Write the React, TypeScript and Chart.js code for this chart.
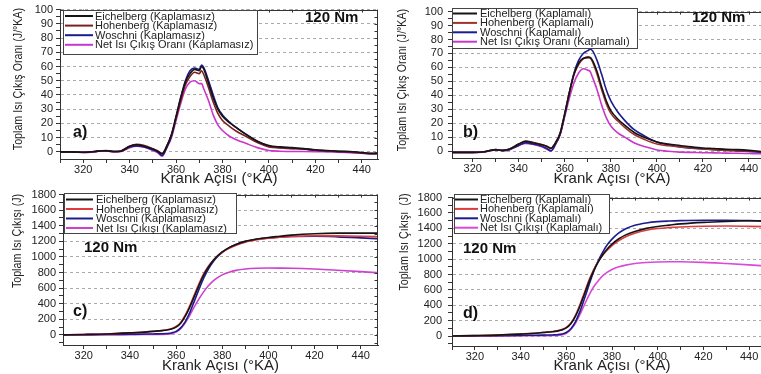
import React, { useEffect, useRef } from 'react';
import { Chart, registerables } from 'chart.js';

Chart.register(...registerables);

const SANS = '"Liberation Sans", Arial, Helvetica, sans-serif';

// ---------- DATA ----------
// Heat release rate (J/°KA) panels a, b
const RATE_ANGLES = [310, 315, 320, 325, 328, 330, 333, 336, 340, 343, 346, 350, 352, 354, 356, 358, 360, 362, 364, 366, 368, 370, 371, 372, 374, 376, 378, 380, 383, 386, 390, 395, 400, 405, 410, 415, 420, 425, 430, 435, 440, 445, 450];

const A_EICH = [0, 0, -0.3, 0.3, 0.8, 0.8, 0.3, 0.5, 4, 5, 4.2, 2, 0.5, -1.5, 4, 12, 25, 38, 49, 55, 58, 57, 60, 58, 48, 38, 30, 25, 20.5, 17, 12.5, 7.5, 4.5, 3.5, 3, 2.3, 1.5, 1, 0.5, 0.3, -0.5, -1, -0.5];
const A_HOH = [0, 0, -0.3, 0.3, 0.8, 0.9, 0.3, 0.5, 4, 5.3, 4.6, 2.2, 0.8, -1, 4, 12, 24, 36, 47, 53, 56, 55, 57, 54, 45, 35, 27, 22, 18, 14.5, 11, 6.5, 3.5, 2.8, 2.3, 2, 1.2, 0.8, 0.3, 0, -0.8, -1.2, -0.6];
const A_WOS = [0, 0, -0.3, 0.3, 0.7, 0.8, 0.3, 0.4, 3.5, 4.2, 3.6, 1.5, 0, -2.5, 3, 11, 24, 38, 50, 57, 59, 58, 61, 59, 50, 40, 31, 26, 21, 17, 12.5, 7.5, 4, 3, 2.5, 2, 1.2, 0.6, 0.2, 0, -0.8, -1.3, -0.7];
const A_NET = [0, 0, -0.5, 0, 0.6, 0.6, 0, 0.2, 3, 4, 3.4, 1, -0.5, -3, 3, 10, 22, 34, 44, 49, 50, 48, 48, 44, 36, 26, 19, 15, 11, 8.5, 6, 3, 1, 0.5, 0.3, 0.3, 0.2, 0, -0.2, -0.5, -1, -1.3, -0.8];

const B_EICH = [-1, -1, -1, -0.5, 0.5, 1, 0.5, 1.5, 5, 7, 6, 4.5, 3.5, 2, 6, 13, 27, 42, 55, 63, 66.5, 67, 67, 65, 57, 46, 36, 29, 23, 18.5, 13.5, 9.5, 6.5, 5, 4, 3, 2.2, 1.8, 1.2, 1, 0.5, -0.3, -1];
const B_HOH = [-1, -1, -1, -0.5, 0.5, 1, 0.5, 1.5, 5, 7.2, 6.2, 4.6, 3.6, 2, 6, 13, 27, 42, 55, 62, 66, 67.5, 67, 64, 55, 44, 34, 27, 21.5, 17, 12, 8, 5, 3.8, 3, 2.2, 1.5, 1, 0.5, 0.3, 0, -0.5, -1.2];
const B_WOS = [-1, -1, -1, -0.5, 0.5, 0.8, 0.3, 1, 4, 6, 5, 3.5, 2, 0.3, 5, 12, 26, 42, 56, 65, 70, 72, 73, 72, 65, 55, 44, 36, 28, 22, 15.5, 10.5, 6.5, 4.5, 3, 2, 1.5, 1, 0.5, 0, -0.3, -0.8, -1.3];
const B_NET = [-1, -1, -1, -0.6, 0.4, 0.8, 0.3, 1, 4, 5.5, 4.8, 3, 1.5, 0, 5, 12, 25, 38, 49, 56, 59, 58, 57, 53, 44, 33, 24, 18, 13, 10, 6, 3, 0.8, -0.2, -0.8, -1, -1.2, -1.3, -1.5, -1.6, -1.8, -2, -2];

// Cumulative heat release (J) panels c, d
const CUM_ANGLES = [310, 320, 330, 340, 345, 350, 354, 356, 358, 360, 362, 364, 366, 368, 370, 372, 374, 376, 378, 380, 383, 386, 390, 395, 400, 405, 410, 420, 430, 440, 450];

const C_EICH = [0, 5, 12, 25, 33, 45, 55, 62, 75, 100, 150, 240, 360, 500, 640, 770, 870, 950, 1015, 1065, 1120, 1160, 1200, 1230, 1250, 1265, 1280, 1298, 1305, 1305, 1305];
const C_HOH = [0, 5, 12, 26, 34, 47, 57, 65, 80, 108, 160, 255, 380, 520, 660, 785, 880, 955, 1015, 1060, 1110, 1150, 1190, 1220, 1240, 1252, 1262, 1272, 1270, 1265, 1258];
const C_WOS = [0, 2, 4, 8, 10, 12, 14, 17, 25, 45, 90, 170, 290, 440, 590, 730, 845, 935, 1005, 1060, 1120, 1160, 1200, 1228, 1245, 1255, 1262, 1265, 1258, 1245, 1230];
const C_NET = [0, 0, 1, 3, 4, 5, 6, 8, 15, 35, 80, 155, 255, 365, 465, 555, 630, 690, 735, 770, 805, 828, 845, 855, 858, 857, 855, 845, 830, 812, 792];

const D_EICH = [0, 5, 12, 25, 33, 45, 55, 63, 78, 105, 160, 255, 390, 550, 710, 850, 965, 1060, 1135, 1195, 1265, 1315, 1360, 1400, 1425, 1442, 1458, 1478, 1490, 1498, 1500];
const D_HOH = [0, 5, 12, 26, 34, 47, 58, 67, 83, 112, 170, 270, 410, 570, 730, 865, 970, 1055, 1120, 1175, 1240, 1290, 1335, 1375, 1398, 1410, 1418, 1428, 1430, 1426, 1420];
const D_WOS = [0, 2, 4, 8, 10, 12, 14, 17, 25, 45, 95, 185, 320, 490, 670, 840, 980, 1095, 1190, 1260, 1340, 1395, 1440, 1470, 1487, 1495, 1500, 1505, 1505, 1500, 1490];
const D_NET = [0, 0, 1, 3, 4, 5, 6, 8, 15, 35, 85, 165, 280, 410, 535, 640, 720, 785, 830, 865, 900, 922, 942, 955, 962, 965, 965, 957, 942, 925, 905];

// Tick values (labels shown on the values listed in the label lists)
const X_TICKS = [310, 320, 330, 340, 350, 360, 370, 380, 390, 400, 410, 420, 430, 440, 450];
const X_TICK_LABELS = ['320', '340', '360', '380', '400', '420', '440'];
const RATE_Y_TICKS = [0, 5, 10, 15, 20, 25, 30, 35, 40, 45, 50, 55, 60, 65, 70, 75, 80, 85, 90, 95, 100];
const RATE_Y_LABELS = ['0', '10', '20', '30', '40', '50', '60', '70', '80', '90', '100'];
const CUM_Y_TICKS = [-100, 0, 100, 200, 300, 400, 500, 600, 700, 800, 900, 1000, 1100, 1200, 1300, 1400, 1500, 1600, 1700, 1800];
const CUM_Y_LABELS = ['0', '200', '400', '600', '800', '1000', '1200', '1400', '1600', '1800'];

const LABELS_A = ['Eichelberg (Kaplamasız)', 'Hohenberg (Kaplamasız)', 'Woschni (Kaplamasız)', 'Net Isı Çıkış Oranı (Kaplamasız)'];
const LABELS_B = ['Eichelberg (Kaplamalı)', 'Hohenberg (Kaplamalı)', 'Woschni (Kaplamalı)', 'Net Isı Çıkış Oranı (Kaplamalı)'];
const LABELS_C = ['Eichelberg (Kaplamasız)', 'Hohenberg (Kaplamasız)', 'Woschni (Kaplamasız)', 'Net Isı Çıkışı (Kaplamasız)'];
const LABELS_D = ['Eichelberg (Kaplamalı)', 'Hohenberg (Kaplamalı)', 'Woschni (Kaplamalı)', 'Net Isı Çıkışı (Kaplamalı)'];

const X_TITLE = 'Krank Açısı (°KA)';
const Y_TITLE_RATE = 'Toplam Isı Çıkış Oranı (J/°KA)';
const Y_TITLE_CUM_C = 'Toplam Isı Çıkışı (J)';
const Y_TITLE_CUM_D = 'Toplam Isı Çıkışı  (J)';
const LOAD_TEXT = '120 Nm';

// ---------- LAYOUT ----------
type Series = { label: string; values: number[]; color: string };
type Panel = {
  key: string;
  left: number; top: number; width: number; height: number;
  area: { l: number; t: number; r: number; b: number };
  angles: number[];
  xMin: number; xMax: number;
  yMin: number; yMax: number; yTicks: number[]; yLabels: string[];
  yTitle: string; yTitlePos: { x: number; y: number }; yTickPad: number; xTitlePad: number;
  series: Series[];
  legend: { x: number; y: number; w: number; h: number; row0: number; rowH: number; l0: number; l1: number; tx: number };
  nm: { x: number; y: number };
  tag: { text: string; x: number; y: number };
  rightBorder: boolean;
};

const BLACK = '#141414';
const NAVY = '#1c1c8e';

const PANELS: Panel[] = [
  {
    key: 'a', left: 0, top: 0, width: 380, height: 192,
    area: { l: 60, t: 9, r: 378, b: 159 },
    angles: RATE_ANGLES, xMin: 310, xMax: 447,
    yMin: -5, yMax: 100, yTicks: RATE_Y_TICKS, yLabels: RATE_Y_LABELS,
    yTitle: Y_TITLE_RATE, yTitlePos: { x: 18, y: 79 }, yTickPad: 3, xTitlePad: 4,
    series: [
      { label: LABELS_A[0], values: A_EICH, color: BLACK },
      { label: LABELS_A[1], values: A_HOH, color: '#7c1f1f' },
      { label: LABELS_A[2], values: A_WOS, color: NAVY },
      { label: LABELS_A[3], values: A_NET, color: '#cc35cc' },
    ],
    legend: { x: 63, y: 10, w: 194, h: 44, row0: 16, rowH: 9.6, l0: 65, l1: 93, tx: 95 },
    nm: { x: 305, y: 18 }, tag: { text: 'a)', x: 73, y: 133 }, rightBorder: true,
  },
  {
    key: 'b', left: 380, top: 0, width: 400, height: 192,
    area: { l: 72, t: 9, r: 392, b: 158 },
    angles: RATE_ANGLES, xMin: 311, xMax: 450,
    yMin: -5, yMax: 100, yTicks: RATE_Y_TICKS, yLabels: RATE_Y_LABELS,
    yTitle: Y_TITLE_RATE, yTitlePos: { x: 22, y: 80 }, yTickPad: 5, xTitlePad: 4,
    series: [
      { label: LABELS_B[0], values: B_EICH, color: BLACK },
      { label: LABELS_B[1], values: B_HOH, color: '#a0302a' },
      { label: LABELS_B[2], values: B_WOS, color: NAVY },
      { label: LABELS_B[3], values: B_NET, color: '#c838c8' },
    ],
    legend: { x: 72, y: 8, w: 185, h: 40, row0: 13.5, rowH: 9.4, l0: 73, l1: 97, tx: 100 },
    nm: { x: 312, y: 18 }, tag: { text: 'b)', x: 83, y: 133 }, rightBorder: false,
  },
  {
    key: 'c', left: 0, top: 185, width: 380, height: 195,
    area: { l: 63, t: 7, r: 378, b: 160 },
    angles: CUM_ANGLES, xMin: 311, xMax: 447.5,
    yMin: -130, yMax: 1800, yTicks: CUM_Y_TICKS, yLabels: CUM_Y_LABELS,
    yTitle: Y_TITLE_CUM_C, yTitlePos: { x: 17, y: 56 }, yTickPad: 3, xTitlePad: 5,
    series: [
      { label: LABELS_C[0], values: C_EICH, color: BLACK },
      { label: LABELS_C[1], values: C_HOH, color: '#e03a3a' },
      { label: LABELS_C[2], values: C_WOS, color: NAVY },
      { label: LABELS_C[3], values: C_NET, color: '#d040d0' },
    ],
    legend: { x: 64, y: 8, w: 172, h: 40, row0: 14.5, rowH: 9.5, l0: 66, l1: 93, tx: 96 },
    nm: { x: 84, y: 63 }, tag: { text: 'c)', x: 73, y: 127 }, rightBorder: true,
  },
  {
    key: 'd', left: 380, top: 185, width: 400, height: 195,
    area: { l: 72, t: 8, r: 392, b: 161 },
    angles: CUM_ANGLES, xMin: 310, xMax: 450,
    yMin: -130, yMax: 1800, yTicks: CUM_Y_TICKS, yLabels: CUM_Y_LABELS,
    yTitle: Y_TITLE_CUM_D, yTitlePos: { x: 24, y: 57 }, yTickPad: 6, xTitlePad: 5,
    series: [
      { label: LABELS_D[0], values: D_EICH, color: BLACK },
      { label: LABELS_D[1], values: D_HOH, color: '#dd3b3b' },
      { label: LABELS_D[2], values: D_WOS, color: NAVY },
      { label: LABELS_D[3], values: D_NET, color: '#d84ad8' },
    ],
    legend: { x: 74, y: 9, w: 155, h: 39, row0: 14.5, rowH: 9.4, l0: 75, l1: 98, tx: 100 },
    nm: { x: 83, y: 64 }, tag: { text: 'd)', x: 83, y: 129 }, rightBorder: false,
  },
];

function fmt(v: number) {
  return String(Math.round(v * 1000) / 1000);
}

function makeChart(canvas: HTMLCanvasElement, p: Panel) {
  const datasets = p.series.map((s) => ({
    label: s.label,
    data: p.angles.map((x, i) => ({ x, y: s.values[i] })),
    borderColor: s.color,
    backgroundColor: s.color,
    borderWidth: 1.6,
    pointRadius: 0,
    cubicInterpolationMode: 'monotone' as const,
    fill: false,
  }));

  const decor = {
    id: 'decor_' + p.key,
    afterDraw(chart: any) {
      const { ctx, chartArea: a } = chart;
      const xs = chart.scales.x;
      const ys = chart.scales.y;
      ctx.save();
      ctx.strokeStyle = '#333';
      ctx.lineWidth = 1;
      ctx.setLineDash([]);
      ctx.beginPath();
      const top = Math.round(a.top) + 0.5;
      ctx.moveTo(a.left, top);
      ctx.lineTo(a.right, top);
      X_TICKS.forEach((v) => {
        if (v < p.xMin || v > p.xMax) return;
        const x = Math.round(xs.getPixelForValue(v)) + 0.5;
        ctx.moveTo(x, a.top);
        ctx.lineTo(x, a.top + 3);
      });
      if (p.rightBorder) {
        const r = Math.round(a.right) - 0.5;
        ctx.moveTo(r, a.top);
        ctx.lineTo(r, a.bottom);
        p.yTicks.forEach((v) => {
          if (v < p.yMin) return;
          const y = Math.round(ys.getPixelForValue(v)) + 0.5;
          ctx.moveTo(r, y);
          ctx.lineTo(r - 3, y);
        });
      }
      ctx.stroke();

      // y-axis title (condensed, like the original figure)
      ctx.save();
      ctx.translate(p.yTitlePos.x, p.yTitlePos.y);
      ctx.rotate(-Math.PI / 2);
      ctx.scale(0.82, 1);
      ctx.font = `13px ${SANS}`;
      ctx.fillStyle = '#222';
      ctx.textAlign = 'center';
      ctx.textBaseline = 'middle';
      ctx.fillText(p.yTitle, 0, 0);
      ctx.restore();

      // legend box
      const L = p.legend;
      ctx.fillStyle = '#ffffff';
      ctx.fillRect(L.x, L.y, L.w, L.h);
      ctx.strokeStyle = '#444';
      ctx.lineWidth = 1;
      ctx.strokeRect(L.x + 0.5, L.y + 0.5, L.w, L.h);
      ctx.font = `11px ${SANS}`;
      ctx.textBaseline = 'middle';
      ctx.textAlign = 'left';
      chart.data.datasets.forEach((ds: any, i: number) => {
        const y = L.row0 + i * L.rowH;
        ctx.strokeStyle = ds.borderColor;
        ctx.lineWidth = 2;
        ctx.beginPath();
        ctx.moveTo(L.l0, y);
        ctx.lineTo(L.l1, y);
        ctx.stroke();
        ctx.fillStyle = '#222';
        ctx.fillText(ds.label, L.tx, y + 0.5);
      });

      ctx.fillStyle = '#111';
      ctx.font = `bold 15px ${SANS}`;
      ctx.fillText(LOAD_TEXT, p.nm.x, p.nm.y);
      ctx.font = `bold 16px ${SANS}`;
      ctx.fillText(p.tag.text, p.tag.x, p.tag.y);
      ctx.restore();
    },
  };

  return new Chart(canvas, {
    type: 'line',
    data: { datasets },
    options: {
      animation: false,
      responsive: false,
      events: [],
      layout: { padding: { left: 0, top: p.area.t, right: p.width - p.area.r, bottom: 0 } },
      plugins: { legend: { display: false }, tooltip: { enabled: false } },
      scales: {
        x: {
          type: 'linear',
          min: p.xMin,
          max: p.xMax,
          afterFit: (s: any) => { s.height = p.height - p.area.b; },
          afterBuildTicks: (s: any) => {
            s.ticks = X_TICKS.filter((v) => v >= p.xMin && v <= p.xMax).map((value) => ({ value }));
          },
          ticks: {
            autoSkip: false,
            maxRotation: 0,
            minRotation: 0,
            padding: 0,
            color: '#222',
            font: { family: SANS, size: 11 },
            callback: (v: any) => {
              const s = fmt(Number(v));
              return X_TICK_LABELS.includes(s) ? s : '';
            },
          },
          grid: {
            display: true,
            drawOnChartArea: false,
            tickLength: 4,
            tickWidth: 1,
            tickColor: '#333',
          },
          border: { display: true, color: '#333', width: 1 },
          title: {
            display: true,
            text: X_TITLE,
            color: '#222',
            font: { family: SANS, size: 15 },
            padding: { top: 0, bottom: p.xTitlePad },
          },
        },
        y: {
          type: 'linear',
          min: p.yMin,
          max: p.yMax,
          afterFit: (s: any) => { s.width = p.area.l; },
          afterBuildTicks: (s: any) => {
            s.ticks = p.yTicks.filter((v) => v >= p.yMin && v <= p.yMax).map((value) => ({ value }));
          },
          ticks: {
            autoSkip: false,
            padding: p.yTickPad,
            color: '#222',
            font: { family: SANS, size: 11 },
            callback: (v: any) => {
              const s = fmt(Number(v));
              return p.yLabels.includes(s) ? s : '';
            },
          },
          grid: {
            display: true,
            drawOnChartArea: true,
            tickLength: 4,
            lineWidth: 1,
            color: (ctx: any) => (ctx.tick && p.yLabels.includes(fmt(ctx.tick.value)) ? '#aaaaaa' : 'rgba(0,0,0,0)'),
            tickColor: '#333',
          },
          border: { display: true, color: '#333', width: 1, dash: [3, 3] },
          title: { display: false },
        },
      },
    } as any,
    plugins: [decor],
  });
}

export default function App() {
  const refs = useRef<(HTMLCanvasElement | null)[]>([]);
  useEffect(() => {
    const charts = PANELS.map((p, i) => makeChart(refs.current[i] as HTMLCanvasElement, p));
    return () => charts.forEach((c) => c.destroy());
  }, []);
  return (
    <div style={{ position: 'fixed', left: 0, top: 0, width: 761, height: 374, overflow: 'hidden', background: '#ffffff' }}>
      {PANELS.map((p, i) => (
        <canvas
          key={p.key}
          ref={(el) => { refs.current[i] = el; }}
          width={p.width}
          height={p.height}
          style={{ position: 'absolute', left: p.left, top: p.top, width: p.width, height: p.height, display: 'block' }}
        />
      ))}
    </div>
  );
}
